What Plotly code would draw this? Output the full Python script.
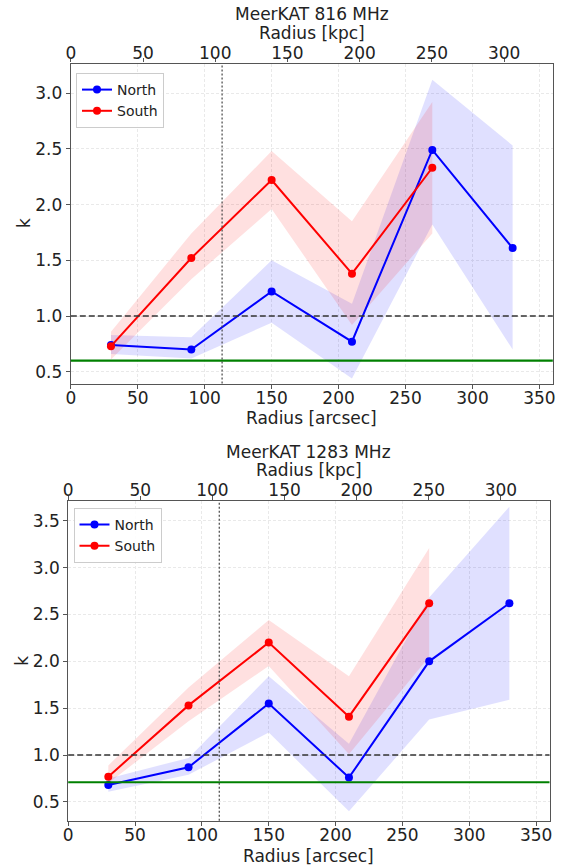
import plotly.graph_objects as go

# ---------------- data ----------------
radius = [30, 90, 150, 210, 270, 330]          # arcsec
radius_s = [30, 90, 150, 210, 270]
kpc_range_max = 333.7                          # kpc at 360 arcsec

# 816 MHz
n816_k = [0.74, 0.70, 1.22, 0.77, 2.49, 1.61]
n816_lo = [0.66, 0.62, 0.94, 0.44, 1.82, 0.70]
n816_hi = [0.83, 0.81, 1.50, 1.11, 3.12, 2.53]
s816_k = [0.73, 1.52, 2.22, 1.38, 2.33]
s816_lo = [0.61, 1.33, 1.96, 0.92, 1.74]
s816_hi = [0.86, 1.74, 2.48, 1.85, 2.92]
green816 = 0.60

# 1283 MHz
n1283_k = [0.68, 0.87, 1.55, 0.76, 2.00, 2.62]
n1283_lo = [0.61, 0.79, 1.24, 0.40, 1.38, 1.59]
n1283_hi = [0.75, 0.97, 1.84, 1.12, 2.68, 3.65]
s1283_k = [0.77, 1.53, 2.20, 1.41, 2.62]
s1283_lo = [0.70, 1.36, 1.95, 1.01, 2.05]
s1283_hi = [0.89, 1.72, 2.44, 1.84, 3.21]
green1283 = 0.71

vline_arcsec = 113
ref_k = 1.0

x_ticks = [0, 50, 100, 150, 200, 250, 300, 350]
kpc_ticks = [0, 50, 100, 150, 200, 250, 300]
y_ticks_top = [0.5, 1.0, 1.5, 2.0, 2.5, 3.0]
y_ticks_bot = [0.5, 1.0, 1.5, 2.0, 2.5, 3.0, 3.5]

titles = ["MeerKAT 816 MHz", "MeerKAT 1283 MHz"]
x_title = "Radius [arcsec]"
kpc_title = "Radius [kpc]"
y_title = "k"

# ---------------- layout geometry (pixels) ----------------
W, H = 568, 867
FONT = "DejaVu Sans"
TXT = "#222222"
P = [
    dict(xl=70.8, xr=552.8, yt=63.5, yb=383.5, yr=[0.395, 3.265], yticks=y_ticks_top,
         title_y=14, kpc_y=33, xt_y=418, k_x=23.5,
         leg_x=76, leg_y=73),
    dict(xl=68.2, xr=549.5, yt=501, yb=820.7, yr=[0.30, 3.71], yticks=y_ticks_bot,
         title_y=451.7, kpc_y=470, xt_y=855.5, k_x=22,
         leg_x=73.5, leg_y=508),
]

fig = go.Figure()

def band(x, lo, hi, color, xa, ya):
    fig.add_trace(go.Scatter(
        x=list(x) + list(x)[::-1], y=list(hi) + list(lo)[::-1],
        fill="toself", fillcolor=color, line=dict(width=0),
        mode="lines", hoverinfo="skip", showlegend=False,
        xaxis=xa, yaxis=ya))

def line(x, y, color, name, xa, ya, leg):
    fig.add_trace(go.Scatter(
        x=x, y=y, mode="lines+markers", name=name,
        line=dict(color=color, width=2),
        marker=dict(color=color, size=8),
        xaxis=xa, yaxis=ya, legend=leg))

BLUE_F = "rgba(0,0,255,0.12)"
RED_F = "rgba(255,0,0,0.12)"

panels = [
    ("x", "y", "legend", n816_k, n816_lo, n816_hi, s816_k, s816_lo, s816_hi),
    ("x3", "y2", "legend2", n1283_k, n1283_lo, n1283_hi, s1283_k, s1283_lo, s1283_hi),
]
for xa, ya, leg, nk, nlo, nhi, sk, slo, shi in panels:
    band(radius, nlo, nhi, BLUE_F, xa, ya)
    band(radius_s, slo, shi, RED_F, xa, ya)
    line(radius, nk, "blue", "North", xa, ya, leg)
    line(radius_s, sk, "red", "South", xa, ya, leg)

# invisible traces so the kpc axes exist
fig.add_trace(go.Scatter(x=kpc_ticks, y=[None]*len(kpc_ticks), xaxis="x2", yaxis="y",
                         showlegend=False, hoverinfo="skip"))
fig.add_trace(go.Scatter(x=kpc_ticks, y=[None]*len(kpc_ticks), xaxis="x4", yaxis="y2",
                         showlegend=False, hoverinfo="skip"))

common_ax = dict(showline=True, linecolor="#555555", linewidth=1.1,
                 ticks="outside", ticklen=4, tickwidth=1.1, tickcolor="#555555",
                 tickfont=dict(family=FONT, size=17, color=TXT), zeroline=False,
                 automargin=False)
GRID = dict(showgrid=True, gridcolor="#e9e9e9", griddash="3px,2px", gridwidth=1)

shapes, annotations = [], []
for i, p in enumerate(P):
    xa, xk, ya = ("xaxis", "xaxis2", "yaxis") if i == 0 else ("xaxis3", "xaxis4", "yaxis2")
    xname, yname = ("x", "y") if i == 0 else ("x3", "y2")
    xdom = [p["xl"] / W, p["xr"] / W]
    ydom = [1 - p["yb"] / H, 1 - p["yt"] / H]
    fig.update_layout({
        xa: dict(common_ax, **GRID, domain=xdom, anchor=yname, range=[0, 360],
                 tickvals=x_ticks, ticklabelstandoff=-5),
        xk: dict(common_ax, overlaying=xname, anchor=yname, side="top",
                 range=[0, kpc_range_max], tickvals=kpc_ticks, showgrid=False,
                 ticklabelstandoff=-7),
        ya: dict(common_ax, **GRID, domain=ydom, anchor=xname, range=p["yr"],
                 tickvals=p["yticks"], tickformat=".1f", mirror=True),
    })
    g = green816 if i == 0 else green1283
    shapes.append(dict(type="line", xref=f"{xname} domain", yref=yname, x0=0, x1=1,
                       y0=ref_k, y1=ref_k, line=dict(color="#333333", width=1.6, dash="6px,3px")))
    shapes.append(dict(type="line", xref=f"{xname} domain", yref=yname, x0=0, x1=1,
                       y0=g, y1=g, line=dict(color="green", width=2.2)))
    shapes.append(dict(type="line", xref=xname, yref=f"{yname} domain",
                       x0=vline_arcsec, x1=vline_arcsec, y0=0, y1=1,
                       line=dict(color="#444444", width=1.2, dash="2px,2px")))
    xc = (p["xl"] + p["xr"]) / 2 / W
    f = dict(family=FONT, size=17, color=TXT)
    for text, ypx in [(titles[i], p["title_y"]), (kpc_title, p["kpc_y"]), (x_title, p["xt_y"])]:
        annotations.append(dict(text=text, x=xc, y=1 - ypx / H, xref="paper", yref="paper",
                                showarrow=False, xanchor="center", yanchor="middle", font=f))
    annotations.append(dict(text=y_title, x=p["k_x"] / W, y=1 - (p["yt"] + p["yb"]) / 2 / H,
                            xref="paper", yref="paper", showarrow=False, textangle=-90,
                            xanchor="center", yanchor="middle", font=f))

leg_common = dict(bgcolor="rgba(255,255,255,0.9)", bordercolor="#cccccc", borderwidth=1,
                  font=dict(family=FONT, size=14, color=TXT), xanchor="left", yanchor="top",
                  itemwidth=30, tracegroupgap=0)

fig.update_layout(
    width=W, height=H, margin=dict(l=0, r=0, t=0, b=0),
    paper_bgcolor="white", plot_bgcolor="white",
    shapes=shapes, annotations=annotations,
    legend=dict(leg_common, x=P[0]["leg_x"] / W, y=1 - P[0]["leg_y"] / H),
    legend2=dict(leg_common, x=P[1]["leg_x"] / W, y=1 - P[1]["leg_y"] / H),
    font=dict(family=FONT, color=TXT),
)

fig.write_html("out.html", config={"displayModeBar": False},
               post_script="document.body.style.margin='0px';document.body.style.overflow='hidden';")
